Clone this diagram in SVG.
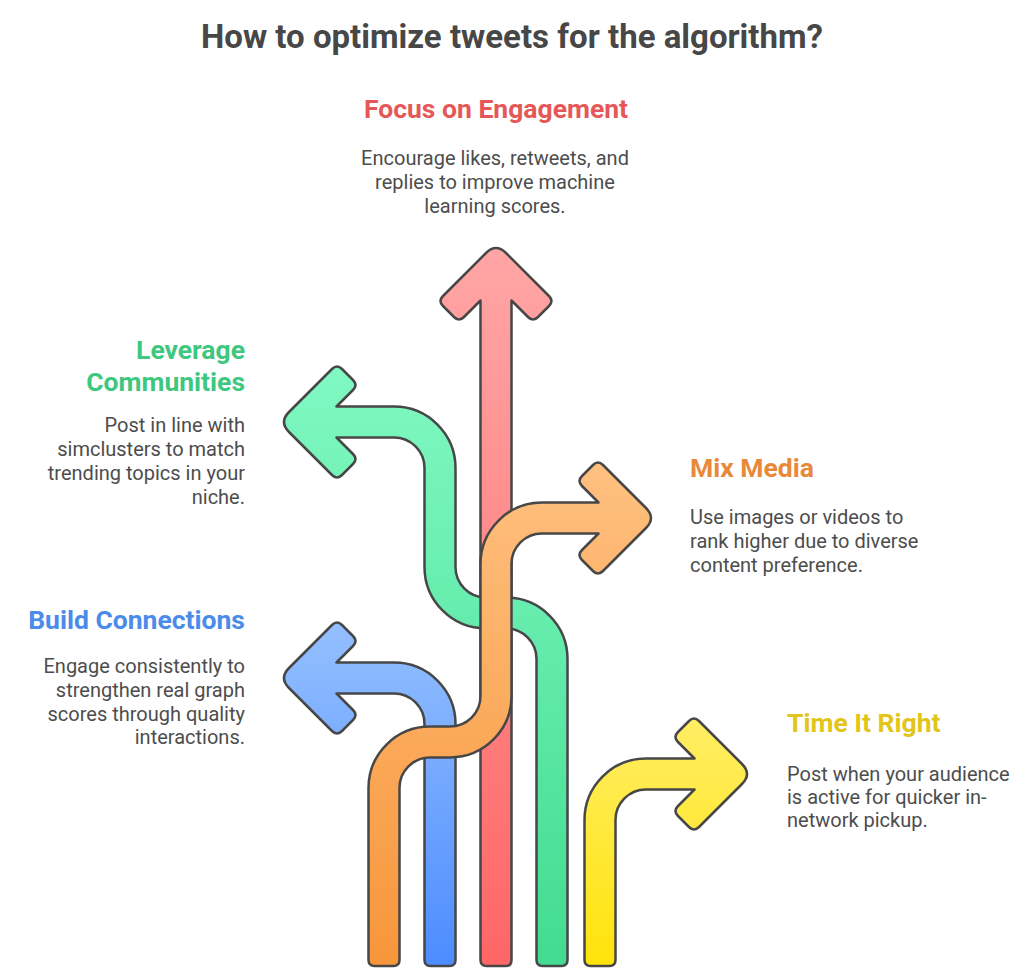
<svg xmlns="http://www.w3.org/2000/svg" width="1024" height="976" viewBox="0 0 1024 976">
<style>
.arrow{stroke:#474747;stroke-width:2.5;stroke-linejoin:round}
.title{font-family:Roboto,"Liberation Sans",sans-serif;font-weight:700;font-size:33px;fill:#474747}
.head{font-family:Roboto,"Liberation Sans",sans-serif;font-weight:700;font-size:26.5px}
.body{font-family:Roboto,"Liberation Sans",sans-serif;font-size:20px;fill:#4d4d4d}
</style>
<defs>
<linearGradient id="gRed" gradientUnits="userSpaceOnUse" x1="0" y1="243" x2="0" y2="966"><stop offset="0" stop-color="#FFA6A6"/><stop offset="1" stop-color="#FF6666"/></linearGradient>
<linearGradient id="gBlue" gradientUnits="userSpaceOnUse" x1="0" y1="620" x2="0" y2="966"><stop offset="0" stop-color="#95C0FF"/><stop offset="1" stop-color="#4D8CFF"/></linearGradient>
<linearGradient id="gGreen" gradientUnits="userSpaceOnUse" x1="0" y1="364" x2="0" y2="966"><stop offset="0" stop-color="#80F9C2"/><stop offset="1" stop-color="#42DB91"/></linearGradient>
<linearGradient id="gOrange" gradientUnits="userSpaceOnUse" x1="0" y1="460" x2="0" y2="966"><stop offset="0" stop-color="#FFC080"/><stop offset="1" stop-color="#F7963A"/></linearGradient>
<linearGradient id="gYellow" gradientUnits="userSpaceOnUse" x1="0" y1="716" x2="0" y2="966"><stop offset="0" stop-color="#FFEE66"/><stop offset="1" stop-color="#FFE30A"/></linearGradient>
</defs>
<rect width="1024" height="976" fill="#ffffff"/>
<text class="title" x="512" y="48" text-anchor="middle">How to optimize tweets for the algorithm?</text>

<g id="connectors">
<path id="arrow-red" class="arrow" fill="url(#gRed)" d="M480.5,300.5 L464,317 Q459,322 454,317 L443,306 Q438,301 443,296 L486,253 Q496,243 506,253 L549,296 Q554,301 549,306 L538,317 Q533,322 528,317 L511.5,300.5 L511.5,960 Q511.5,966 505.5,966 L486.5,966 Q480.5,966 480.5,960 Z"/>
<path id="arrow-blue" class="arrow" fill="url(#gBlue)" d="M424.5,960 L424.5,724 A30.5,30.5 0 0 0 394,693.5 L336.5,693.5 L353,710 Q358,715 353,720 L342,731 Q337,736 332,731 L289,688 Q279,678 289,668 L332,625 Q337,620 342,625 L353,636 Q358,641 353,646 L336.5,662.5 L394,662.5 A61.5,61.5 0 0 1 455.5,724 L455.5,960 Q455.5,966 449.5,966 L430.5,966 Q424.5,966 424.5,960 Z"/>
<path id="arrow-green" class="arrow" fill="url(#gGreen)" d="M536.5,960 L536.5,659 A30.5,30.5 0 0 0 506,628.5 L486,628.5 A61.5,61.5 0 0 1 424.5,567 L424.5,468 A30.5,30.5 0 0 0 394,437.5 L336.5,437.5 L353,454 Q358,459 353,464 L342,475 Q337,480 332,475 L289,432 Q279,422 289,412 L332,369 Q337,364 342,369 L353,380 Q358,385 353,390 L336.5,406.5 L394,406.5 A61.5,61.5 0 0 1 455.5,468 L455.5,567 A30.5,30.5 0 0 0 486,597.5 L506,597.5 A61.5,61.5 0 0 1 567.5,659 L567.5,960 Q567.5,966 561.5,966 L542.5,966 Q536.5,966 536.5,960 Z"/>
<path id="arrow-yellow" class="arrow" fill="url(#gYellow)" d="M584.5,960 L584.5,820 A61.5,61.5 0 0 1 646,758.5 L694.5,758.5 L678,742 Q673,737 678,732 L689,721 Q694,716 699,721 L742,764 Q752,774 742,784 L699,827 Q694,832 689,827 L678,816 Q673,811 678,806 L694.5,789.5 L646,789.5 A30.5,30.5 0 0 0 615.5,820 L615.5,960 Q615.5,966 609.5,966 L590.5,966 Q584.5,966 584.5,960 Z"/>
<path id="arrow-orange" class="arrow" fill="url(#gOrange)" d="M368.5,960 L368.5,788 A61.5,61.5 0 0 1 430,726.5 L450,726.5 A30.5,30.5 0 0 0 480.5,696 L480.5,564 A61.5,61.5 0 0 1 542,502.5 L598.5,502.5 L582,486 Q577,481 582,476 L593,465 Q598,460 603,465 L646,508 Q656,518 646,528 L603,571 Q598,576 593,571 L582,560 Q577,555 582,550 L598.5,533.5 L542,533.5 A30.5,30.5 0 0 0 511.5,564 L511.5,696 A61.5,61.5 0 0 1 450,757.5 L430,757.5 A30.5,30.5 0 0 0 399.5,788 L399.5,960 Q399.5,966 393.5,966 L374.5,966 Q368.5,966 368.5,960 Z"/>
</g>

<g id="node-engagement">
<text class="head" x="496" y="118" text-anchor="middle" fill="#E65757">Focus on Engagement</text>
<text class="body" text-anchor="middle"><tspan x="495" y="165">Encourage likes, retweets, and</tspan><tspan x="495" y="189">replies to improve machine</tspan><tspan x="495" y="212.5">learning scores.</tspan></text>
</g>
<g id="node-communities">
<text class="head" text-anchor="end" fill="#3DC77F"><tspan x="245" y="359">Leverage</tspan><tspan x="245" y="391">Communities</tspan></text>
<text class="body" text-anchor="end"><tspan x="245" y="432">Post in line with</tspan><tspan x="245" y="455.5">simclusters to match</tspan><tspan x="245" y="479.5">trending topics in your</tspan><tspan x="245" y="503.5">niche.</tspan></text>
</g>
<g id="node-media">
<text class="head" x="690" y="477" fill="#E8893A">Mix Media</text>
<text class="body"><tspan x="690" y="524">Use images or videos to</tspan><tspan x="690" y="548">rank higher due to diverse</tspan><tspan x="690" y="572">content preference.</tspan></text>
</g>
<g id="node-connections">
<text class="head" x="245" y="629" text-anchor="end" fill="#4B8BEA">Build Connections</text>
<text class="body" text-anchor="end"><tspan x="245" y="673">Engage consistently to</tspan><tspan x="245" y="697">strengthen real graph</tspan><tspan x="245" y="720.5">scores through quality</tspan><tspan x="245" y="744">interactions.</tspan></text>
</g>
<g id="node-time">
<text class="head" x="787" y="732" fill="#E3C51A">Time It Right</text>
<text class="body"><tspan x="787" y="781">Post when your audience</tspan><tspan x="787" y="804">is active for quicker in-</tspan><tspan x="787" y="827">network pickup.</tspan></text>
</g>
</svg>
